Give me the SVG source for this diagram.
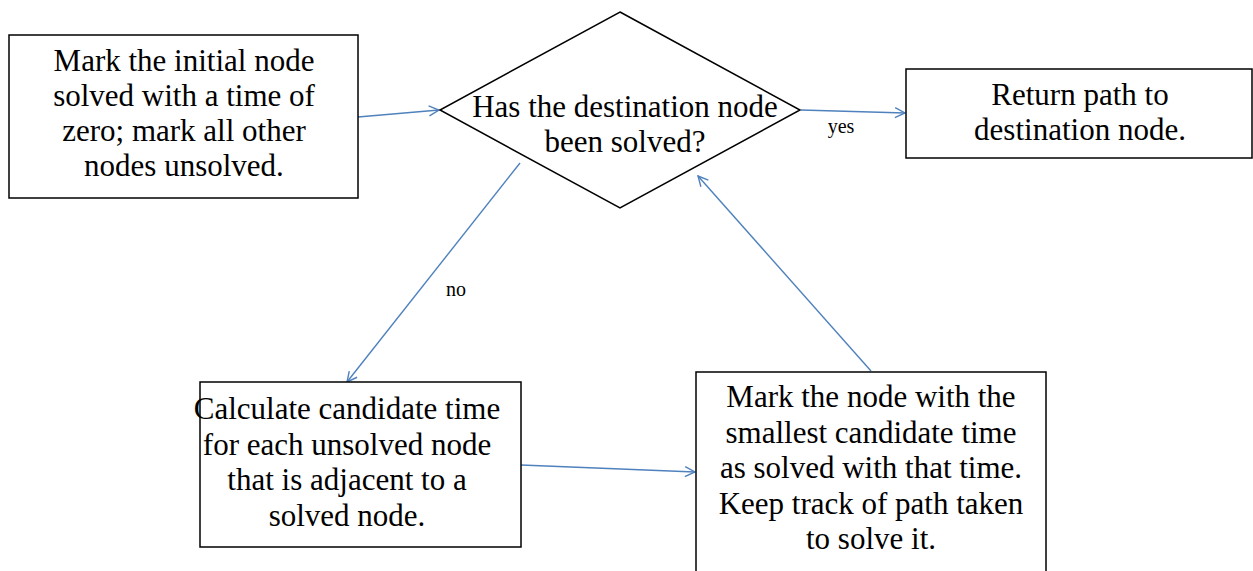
<svg xmlns="http://www.w3.org/2000/svg" width="1253" height="571" viewBox="0 0 1253 571">
<style>
.box{fill:#fff;stroke:#000;stroke-width:1.5}
.t{font-family:"Liberation Serif","Times New Roman",serif;font-size:31px;fill:#000;text-anchor:middle}
.lbl{font-family:"Liberation Serif","Times New Roman",serif;font-size:20px;fill:#000;text-anchor:middle}
.c{fill:none;stroke:#4F81BD;stroke-width:1.4;marker-end:url(#arr)}
</style>
<defs>
<marker id="arr" viewBox="0 0 12 12" refX="11" refY="6" markerWidth="12" markerHeight="12" markerUnits="userSpaceOnUse" orient="auto">
<path d="M1,1 L11,6 L1,11" fill="none" stroke="#4F81BD" stroke-width="1.4"/>
</marker>
</defs>
<rect width="1253" height="571" fill="#fff"/>
<g id="connectors">
<line class="c" x1="358" y1="117" x2="439" y2="110"/>
<line class="c" x1="801" y1="110" x2="905" y2="113"/>
<line class="c" x1="520" y1="163" x2="347" y2="382"/>
<line class="c" x1="521" y1="465" x2="695" y2="472"/>
<line class="c" x1="871" y1="371" x2="698" y2="176"/>
<text class="lbl" x="841" y="133">yes</text>
<text class="lbl" x="456" y="296">no</text>
</g>
<g id="start">
<rect class="box" x="9" y="35" width="349" height="163"/>
<text class="t" x="184" y="71">Mark the initial node</text>
<text class="t" x="184" y="106">solved with a time of</text>
<text class="t" x="184" y="141">zero; mark all other</text>
<text class="t" x="184" y="176">nodes unsolved.</text>
</g>
<g id="decision">
<polygon class="box" points="620,12 800,110 620,208 440,110"/>
<text class="t" x="625" y="117">Has the destination node</text>
<text class="t" x="625" y="152">been solved?</text>
</g>
<g id="return">
<rect class="box" x="906" y="69" width="346" height="89"/>
<text class="t" x="1080" y="105">Return path to</text>
<text class="t" x="1080" y="140">destination node.</text>
</g>
<g id="calculate">
<rect class="box" x="200" y="382" width="321" height="165"/>
<text class="t" x="347" y="419">Calculate candidate time</text>
<text class="t" x="347" y="455">for each unsolved node</text>
<text class="t" x="347" y="490">that is adjacent to a</text>
<text class="t" x="347" y="526">solved node.</text>
</g>
<g id="mark">
<rect class="box" x="696" y="372" width="350" height="210"/>
<text class="t" x="871" y="407">Mark the node with the</text>
<text class="t" x="871" y="443">smallest candidate time</text>
<text class="t" x="871" y="478">as solved with that time.</text>
<text class="t" x="871" y="514">Keep track of path taken</text>
<text class="t" x="871" y="549">to solve it.</text>
</g>
</svg>
